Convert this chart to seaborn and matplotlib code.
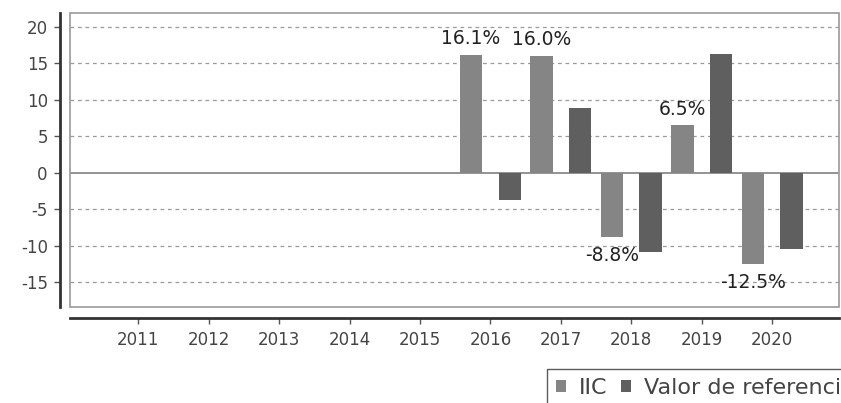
import numpy as np
import pandas as pd
import seaborn as sns
import matplotlib.pyplot as plt
from matplotlib.patches import Rectangle

sns.set_style("ticks")
plt.rcParams['font.family'] = ['DejaVu Sans']
plt.rcParams['axes.unicode_minus'] = False

# data
years = ['2011', '2012', '2013', '2014', '2015', '2016', '2017', '2018', '2019', '2020']
data_years = ['2016', '2017', '2018', '2019', '2020']
iic = [16.1, 16.0, -8.8, 6.5, -12.5]
referencia = [-3.7, 8.9, -10.8, 16.3, -10.4]
yticks = [-15, -10, -5, 0, 5, 10, 15, 20]

df = pd.DataFrame({
    'year': data_years * 2,
    'value': iic + referencia,
    'serie': ['IIC'] * len(iic) + ['Valor de referencia'] * len(referencia),
})

fig = plt.figure(figsize=(8.41, 4.03), dpi=100)
ax = fig.add_axes([70 / 841, 1 - 307 / 403, 769 / 841, 294 / 403])

palette = {'IIC': '#858585', 'Valor de referencia': '#5f5f5f'}
sns.barplot(data=df, x='year', y='value', hue='serie', order=years,
            hue_order=['IIC', 'Valor de referencia'], palette=palette,
            width=1.1, gap=0.42, saturation=1, legend=False, ax=ax,
            linewidth=0, zorder=3)

ax.set_xlim(-0.97, 9.95)
ax.set_ylim(-18.36, 21.9)
ax.set_yticks(yticks)
ax.set_xlabel('')
ax.set_ylabel('')

# grid & zero line
for v in yticks:
    if v == 0:
        ax.axhline(0, color='#808080', lw=1.2, zorder=2)
    else:
        ax.axhline(v, color='#9a9a9a', lw=0.9, ls=(0, (3, 3)), zorder=1)

# inner frame plus offset axes lines
ax.add_patch(Rectangle((0, 0), 1, 1, transform=ax.transAxes, fill=False,
                       ec='#999999', lw=1.2, zorder=4, clip_on=False))
for s in ['top', 'right']:
    ax.spines[s].set_visible(False)
ax.spines['left'].set_position(('outward', 7))
ax.spines['bottom'].set_position(('outward', 8))
ax.spines['left'].set_color('#333333')
ax.spines['bottom'].set_color('#333333')
ax.spines['left'].set_linewidth(2)
ax.spines['bottom'].set_linewidth(2)
ax.tick_params(axis='both', length=4, width=1, color='#555555',
               labelsize=12, labelcolor='#444444', direction='out')
ax.tick_params(axis='x', pad=5)
ax.tick_params(axis='y', pad=5)

# value labels for IIC bars
for yr, v in zip(data_years, iic):
    xpos = years.index(yr) - 0.275
    txt = f'{v:.1f}%'
    if v >= 0:
        ax.annotate(txt, (xpos, v), xytext=(0, 5), textcoords='offset points',
                    ha='center', va='bottom', fontsize=13.5, color='#222222', zorder=5)
    else:
        ax.annotate(txt, (xpos, v), xytext=(0, -6), textcoords='offset points',
                    ha='center', va='top', fontsize=13.5, color='#222222', zorder=5)

handles = [Rectangle((0, 0), 1, 1, fc=palette[k], ec='none') for k in palette]
fig.legend(handles, list(palette), loc='upper left',
           bbox_to_anchor=(547 / 841, 1 - 369 / 403), fontsize=16,
           frameon=True, fancybox=False, edgecolor='#333333', ncol=2,
           handlelength=0.45, handleheight=0.45, handletextpad=0.6,
           columnspacing=0.6, borderpad=0.4, borderaxespad=0,
           labelcolor='#444444')

fig.savefig('out.png', dpi=100)
